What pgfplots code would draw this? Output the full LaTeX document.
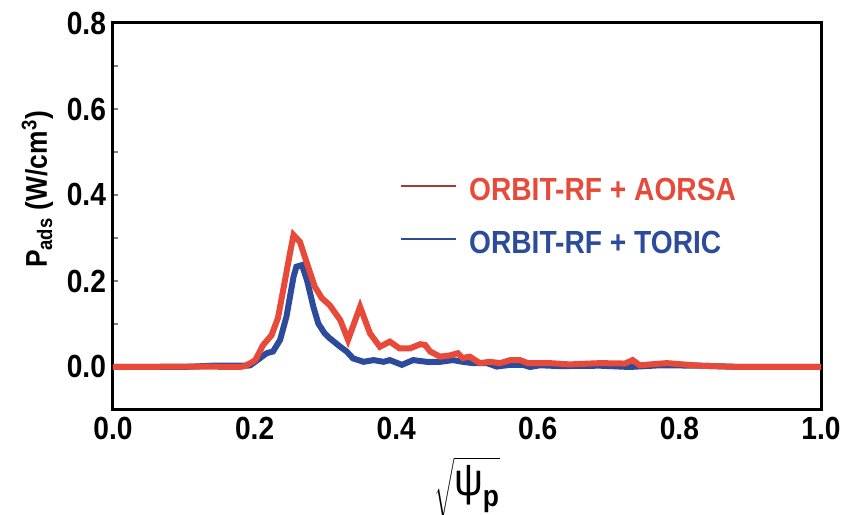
\documentclass[border=0pt]{standalone}
\usepackage{fontspec}
\setmainfont{Liberation Sans}[FakeStretch=0.88]
\usepackage{amsmath}
\usepackage{pgfplots}
\pgfplotsset{compat=1.18}
\usetikzlibrary{calc}

\definecolor{aorsared}{HTML}{E84A3A}
\definecolor{toricblue}{HTML}{2D4B9B}
\definecolor{legred}{HTML}{A83A35}

\newcommand{\lblfont}{\fontsize{16}{18}\selectfont\bfseries}

\begin{document}
\begin{tikzpicture}
\begin{axis}[
  scale only axis,
  width=354pt, height=193.5pt,
  xmin=0, xmax=1, ymin=-0.1, ymax=0.8,
  axis line style={line width=1.5pt},
  xtick={0,0.2,...,1},
  ytick={0,0.2,...,0.8},
  minor ytick={0.1,0.3,0.5,0.7},
  xtick style={draw=none},
  ytick style={line width=1.2pt},
  minor tick style={line width=1.2pt},
  tick align=inside,
  ytick pos=left,
  major tick length=2.5pt, minor tick length=2.5pt,
  xticklabel style={/pgf/number format/fixed, /pgf/number format/fixed zerofill, /pgf/number format/precision=1},
  yticklabel style={/pgf/number format/fixed, /pgf/number format/fixed zerofill, /pgf/number format/precision=1},
  /pgf/number format/assume math mode=true,
  tick label style={font=\lblfont},
  ylabel={P\textsubscript{ads} (W/cm\textsuperscript{3})},
  ylabel style={font=\fontsize{15}{17}\selectfont\bfseries, at={(ticklabel cs:0.57)}},
  xlabel={$\sqrt{\text{\fontsize{23}{25}\selectfont ψ}_{\text{\fontsize{15}{17}\selectfont\bfseries p}}}$},
  xlabel style={yshift=-2pt},
  legend style={draw=none, fill=none, at={(rel axis cs:0.405,0.601)}, anchor=north west,
    inner sep=0pt, outer sep=0pt, row sep=15pt, column sep=6pt,
    nodes={inner sep=0pt, text height=11.5pt, text depth=0pt, font=\lblfont}},
  legend cell align=left,
  legend image code/.code={\draw[#1, line width=1.2pt] (0pt,1.5pt) -- (27.5pt,1.5pt);},
]
% ORBIT-RF + TORIC
\addplot[toricblue, line width=3pt, forget plot] table {
x y
0.000 0.000
0.100 0.000
0.140 0.003
0.190 0.003
0.194 0.004
0.208 0.021
0.217 0.032
0.226 0.036
0.236 0.063
0.245 0.117
0.255 0.210
0.259 0.233
0.267 0.237
0.274 0.202
0.283 0.140
0.290 0.101
0.299 0.078
0.306 0.067
0.321 0.047
0.330 0.036
0.339 0.020
0.354 0.012
0.368 0.016
0.382 0.012
0.391 0.016
0.408 0.005
0.424 0.016
0.443 0.012
0.462 0.012
0.480 0.016
0.494 0.012
0.508 0.009
0.528 0.009
0.542 0.001
0.561 0.005
0.579 0.005
0.589 0.000
0.603 0.004
0.631 0.002
0.688 0.003
0.730 0.000
0.773 0.004
0.829 0.003
0.886 0.000
1.000 0.000
};
% ORBIT-RF + AORSA
\addplot[aorsared, line width=3pt, forget plot] table {
x y
0.000 0.000
0.123 0.001
0.179 0.000
0.186 0.002
0.194 0.009
0.201 0.016
0.212 0.051
0.224 0.074
0.233 0.114
0.243 0.202
0.250 0.265
0.255 0.307
0.264 0.291
0.274 0.241
0.285 0.187
0.295 0.160
0.306 0.144
0.321 0.109
0.332 0.063
0.349 0.140
0.363 0.078
0.377 0.047
0.391 0.059
0.405 0.043
0.419 0.043
0.434 0.053
0.441 0.051
0.448 0.036
0.462 0.024
0.476 0.027
0.487 0.032
0.494 0.021
0.504 0.024
0.518 0.009
0.532 0.012
0.547 0.009
0.561 0.016
0.575 0.016
0.586 0.009
0.617 0.009
0.645 0.006
0.688 0.009
0.723 0.008
0.734 0.016
0.744 0.004
0.782 0.009
0.829 0.003
0.886 0.000
1.000 0.000
};
\addlegendimage{legred}
\addlegendentry{\textcolor{aorsared}{ORBIT-RF + AORSA}}
\addlegendimage{toricblue}
\addlegendentry{\textcolor{toricblue}{ORBIT-RF + TORIC}}
\end{axis}
\pgfresetboundingbox
\path[use as bounding box] ($(current axis.south west)+(-56.5pt,-52.5pt)$) rectangle ($(current axis.north east)+(10pt,11.5pt)$);
\end{tikzpicture}
\end{document}
